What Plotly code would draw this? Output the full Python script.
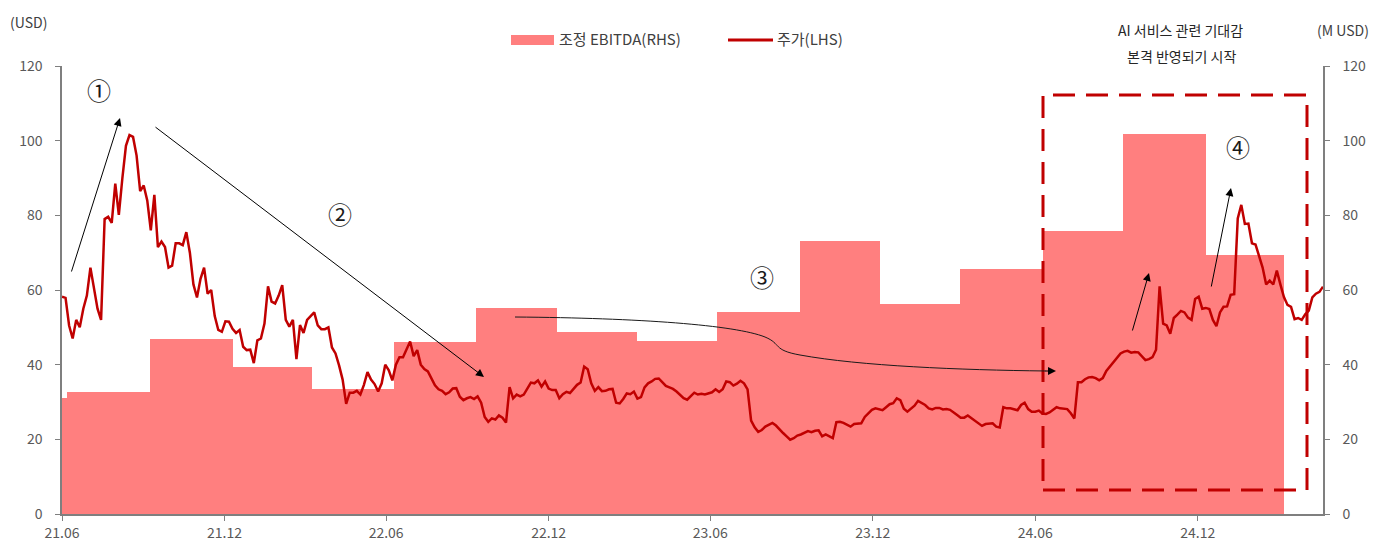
import numpy as np
import pandas as pd
import plotly.graph_objects as go

# ---------------------------------------------------------------------------
# Data
# ---------------------------------------------------------------------------
# Share price (USD), sampled every 4 calendar days from 2021-06-01
price = [
    58.2, 57.9, 50.5, 47, 52, 50, 55, 58.5, 66, 61,
    55, 52, 79, 79.6, 78, 88.5, 80.1, 90, 98.6, 101.5,
    101, 96, 86.5, 88, 84, 76, 85.5, 71.5, 73, 71.5,
    66, 66.5, 72.5, 72.5, 72, 75.5, 70, 61.5, 58, 63,
    66, 59, 60, 53, 49.3, 48.8, 51.6, 51.5, 49.6, 48.5,
    49.3, 44.8, 43.9, 44, 40.4, 46.5, 47, 51, 61, 56.9,
    56.4, 58.5, 61.3, 52, 50.2, 52, 41.5, 50.6, 48.5, 52,
    52.9, 54, 50.5, 49.5, 49.5, 50, 44.6, 43, 39.8, 36,
    29.5, 32.5, 32.5, 33, 32, 34.6, 38, 36, 34.8, 32.8,
    35, 40, 38.5, 35.8, 40, 42, 42, 44, 46.2, 42.3,
    43.9, 40, 38.8, 38.2, 36.5, 34.5, 33.4, 33, 32.1, 32.6,
    33.6, 33.7, 31.4, 30.5, 31, 31.3, 30.8, 31.5, 29.8, 26,
    24.7, 25.6, 25.3, 26.4, 25.8, 24.5, 34, 31, 32, 31.5,
    32, 33.5, 35.2, 35, 35.8, 34.1, 35.5, 33.6, 33.2, 33.2,
    31, 32.1, 32.7, 32.4, 33.5, 34.6, 35.2, 39.5, 38.8, 35,
    33, 34, 32.9, 33, 33.4, 33.5, 29.8, 29.6, 30.8, 32.3,
    32.1, 32.8, 30.9, 31.3, 33.9, 35, 35.5, 36.2, 36.3, 35.4,
    34.3, 33.9, 33.5, 32.8, 31.8, 31, 30.6, 31.6, 32.5, 32,
    32.2, 32, 32.3, 32.6, 33.4, 32.7, 33.4, 35.5, 35.3, 34.4,
    34.9, 35.7, 35, 33.4, 25, 23.2, 22, 22.5, 23.4, 23.9,
    24.4, 23.7, 22.6, 21.7, 20.8, 19.9, 20.3, 21, 21.3, 21.7,
    22.2, 21.9, 22.3, 22.4, 20.8, 21.3, 20.8, 20.3, 24.6, 24.7,
    24.4, 23.9, 23.4, 24.1, 24.3, 24.3, 26, 27, 27.9, 28.3,
    28, 27.8, 28.6, 29.4, 29.7, 31, 30.5, 28.2, 27.4, 28.1,
    29, 30.3, 29.8, 29.2, 28.3, 28, 28.4, 28.4, 28, 28.1,
    27.9, 27.1, 26.5, 25.8, 25.8, 26.4, 25.7, 25, 24.5, 23.6,
    24.1, 24.3, 24.3, 23.4, 23.2, 28.6, 28.3, 28.3, 28, 27.8,
    29.2, 29.8, 28.1, 27.4, 27.4, 27.7, 26.9, 26.8, 27.2, 28,
    28.6, 28.3, 28.3, 28.1, 27, 25.6, 35.3, 35.3, 36.1, 36.6,
    36.7, 36.4, 35.8, 36.4, 38.3, 39.4, 40.8, 41.7, 43, 43.5,
    43.7, 43.2, 43.4, 43.3, 42.1, 41.2, 41.5, 42, 44, 61,
    51, 50.5, 48.3, 52.5, 53.4, 54.4, 54, 52.6, 52, 57.6,
    58.2, 55, 55.2, 54.9, 52, 50.3, 54, 55.5, 55.6, 58.7,
    58.9, 79.2, 82.8, 77.7, 77.8, 72.5, 72.2, 68.9, 66, 61.5,
    62.5, 61.5, 65.2, 61.5, 58.1, 56, 55.5, 52.2, 52.5, 52,
    53.5, 54.5, 58, 59, 59.5, 60.9,
]
price_dates = pd.date_range("2021-06-01", periods=len(price), freq="4D")

# Adjusted EBITDA (M USD) per reporting period
period_start = [
    "2021-03-08", "2021-06-07", "2021-09-08", "2021-12-10",
    "2022-03-09", "2022-06-10", "2022-09-10", "2022-12-10",
    "2023-03-11", "2023-06-09", "2023-09-10", "2023-12-09",
    "2024-03-08", "2024-06-10", "2024-09-08", "2024-12-10",
]
period_end = "2025-03-08"
ebitda = [31.0, 32.6, 46.8, 39.5, 33.5, 46.0, 55.3, 48.8,
          46.3, 54.1, 73.1, 56.3, 65.6, 75.8, 101.8, 69.4]

x_ticks = ["2021-06-01", "2021-12-01", "2022-06-01", "2022-12-01",
           "2023-06-01", "2023-12-01", "2024-06-01", "2024-12-01"]
x_tick_labels = ["21.06", "21.12", "22.06", "22.12",
                 "23.06", "23.12", "24.06", "24.12"]
y_ticks = [0, 20, 40, 60, 80, 100, 120]

# ---------------------------------------------------------------------------
# Styling / geometry
# ---------------------------------------------------------------------------
W, H = 1373, 542
ML, MR, MT, MB = 62, 50, 66, 28
FONT = "Noto Sans CJK KR, Noto Sans, sans-serif"
BAR_COLOR = "#FF7F7F"
LINE_COLOR = "#C00000"
AXIS_COLOR = "#7F7F7F"
TICK_FONT = dict(family=FONT, size=14, color="#595959")
TEXT_COLOR = "#262626"


def px(x):
    """Horizontal page pixel -> paper fraction."""
    return (x - ML) / (W - ML - MR)


def py(y):
    """Vertical page pixel -> paper fraction."""
    return (H - MB - y) / (H - MT - MB)


edges = pd.to_datetime(period_start + [period_end])
bar_width_ms = (np.diff(edges.values) / np.timedelta64(1, "ms")).astype(float)

fig = go.Figure()

# EBITDA bars (right-hand scale)
fig.add_trace(go.Bar(
    x=pd.to_datetime(period_start), y=ebitda, width=bar_width_ms, offset=0,
    marker=dict(color=BAR_COLOR, line=dict(width=0)),
    yaxis="y", name="조정 EBITDA(RHS)", showlegend=False,
    hovertemplate="%{y:.1f}<extra></extra>",
))

# Share price line (left-hand scale)
fig.add_trace(go.Scatter(
    x=price_dates, y=price, mode="lines",
    line=dict(color=LINE_COLOR, width=2.5),
    yaxis="y2", name="주가(LHS)", showlegend=False,
))

axis_common = dict(
    range=[0, 120], tickvals=y_ticks, ticks="outside", ticklen=5,
    tickcolor=AXIS_COLOR, showline=True, linecolor=AXIS_COLOR, linewidth=1.5,
    showgrid=False, zeroline=False, tickfont=TICK_FONT, ticklabelstandoff=10,
    automargin=False,
)

fig.update_layout(
    width=W, height=H,
    margin=dict(l=ML, r=MR, t=MT, b=MB, autoexpand=False),
    paper_bgcolor="white", plot_bgcolor="white",
    bargap=0, barmode="overlay",
    font=dict(family=FONT, color=TEXT_COLOR),
    xaxis=dict(
        type="date", range=["2021-06-01", "2025-04-21"],
        tickvals=x_ticks, ticktext=x_tick_labels,
        ticks="outside", ticklen=5, tickcolor=AXIS_COLOR,
        showline=True, linecolor=AXIS_COLOR, linewidth=1.5,
        showgrid=False, zeroline=False, tickfont=TICK_FONT,
        ticklabelstandoff=0, automargin=False,
    ),
    yaxis=dict(side="right", **axis_common),
    yaxis2=dict(side="left", overlaying="y", **axis_common),
)

shapes = []
annotations = []

# Legend (drawn manually for wide swatches)
shapes.append(dict(type="rect", xref="paper", yref="paper",
                   x0=px(511), x1=px(554), y0=py(45), y1=py(35),
                   fillcolor=BAR_COLOR, line=dict(width=0)))
shapes.append(dict(type="line", xref="paper", yref="paper",
                   x0=px(728), x1=px(773), y0=py(40), y1=py(40),
                   line=dict(color=LINE_COLOR, width=3)))
annotations.append(dict(xref="paper", yref="paper", x=px(557), y=py(39),
                        text="조정 EBITDA(RHS)", showarrow=False,
                        xanchor="left", yanchor="middle",
                        font=dict(size=15, color="#404040")))
annotations.append(dict(xref="paper", yref="paper", x=px(775), y=py(39),
                        text="주가(LHS)", showarrow=False,
                        xanchor="left", yanchor="middle",
                        font=dict(size=15, color="#404040")))

# Axis unit captions
annotations.append(dict(xref="paper", yref="paper", x=px(8), y=py(22),
                        text="(USD)", showarrow=False, xanchor="left",
                        yanchor="middle", font=dict(size=14, color="#404040")))
annotations.append(dict(xref="paper", yref="paper", x=px(1371), y=py(30),
                        text="(M USD)", showarrow=False, xanchor="right",
                        yanchor="middle", font=dict(size=14, color="#404040")))

# Highlight box caption
annotations.append(dict(xref="paper", yref="paper", x=px(1180), y=py(30),
                        text="AI 서비스 관련 기대감", showarrow=False,
                        xanchor="center", yanchor="middle",
                        font=dict(size=14, color=TEXT_COLOR)))
annotations.append(dict(xref="paper", yref="paper", x=px(1181), y=py(56),
                        text="본격 반영되기 시작", showarrow=False,
                        xanchor="center", yanchor="middle",
                        font=dict(size=14, color=TEXT_COLOR)))

# Dashed highlight box
shapes.append(dict(type="rect", xref="paper", yref="paper",
                   x0=px(1043), x1=px(1307), y0=py(490), y1=py(95),
                   line=dict(color=LINE_COLOR, width=3, dash="22px,11px"),
                   fillcolor="rgba(0,0,0,0)"))

# Phase markers
for label, cx, cy in [("①", 99, 89), ("②", 340, 213),
                      ("③", 762, 276), ("④", 1238, 146)]:
    annotations.append(dict(xref="paper", yref="paper", x=px(cx), y=py(cy),
                            text=label, showarrow=False,
                            xanchor="center", yanchor="middle",
                            font=dict(size=24, color="#1a1a1a")))

# Straight arrows: (tail x, tail y, tip x, tip y)
for x0, y0, x1, y1 in [(71, 273, 120, 118), (154, 126, 484, 377),
                       (1132, 332, 1149, 273), (1211, 288, 1231, 188)]:
    annotations.append(dict(xref="paper", yref="paper",
                            x=px(x1), y=py(y1), ax=x0 - x1, ay=y0 - y1,
                            axref="pixel", ayref="pixel", text="",
                            showarrow=True, arrowhead=2, arrowsize=1.6,
                            arrowwidth=1, arrowcolor="black", standoff=0))

# Curved arrow for phase ③
pts = [(515, 317), (640, 318), (735, 325), (765, 337),
       (782, 344), (772, 350), (800, 355),
       (860, 366), (960, 370), (1046, 371)]
path = "M {:.5f},{:.5f}".format(px(pts[0][0]), py(pts[0][1]))
for i in range(1, len(pts), 3):
    seg = pts[i:i + 3]
    path += " C " + " ".join("{:.5f},{:.5f}".format(px(a), py(b)) for a, b in seg)
shapes.append(dict(type="path", xref="paper", yref="paper", path=path,
                   line=dict(color="#1a1a1a", width=1)))
annotations.append(dict(xref="paper", yref="paper", x=px(1056), y=py(371),
                        ax=-12, ay=0, axref="pixel", ayref="pixel", text="",
                        showarrow=True, arrowhead=2, arrowsize=1.6,
                        arrowwidth=1, arrowcolor="black", standoff=0))

fig.update_layout(shapes=shapes, annotations=annotations)

fig.write_html("out.html")
